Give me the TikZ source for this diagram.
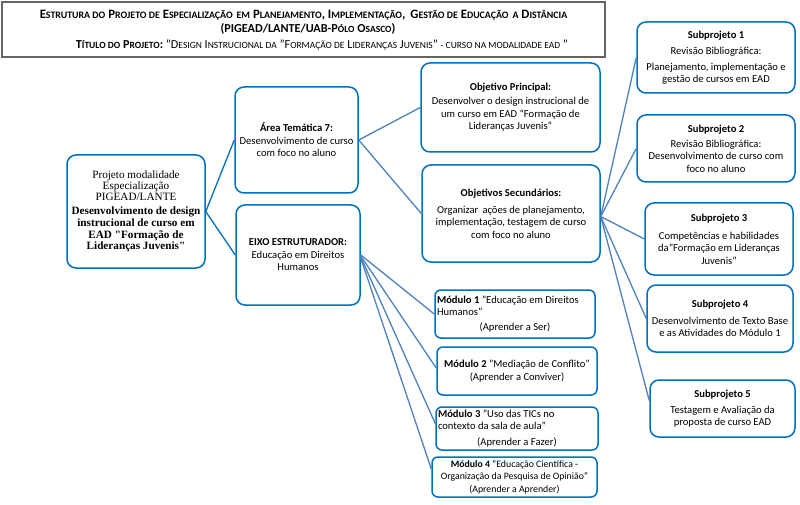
\documentclass[tikz,border=0pt]{standalone}
\usepackage{fontspec}
\setmainfont{Carlito}
\newfontfamily\serifx{Liberation Serif}
\usetikzlibrary{calc}
\definecolor{boxblue}{RGB}{0,112,192}
\definecolor{linkblue}{RGB}{79,129,189}
\definecolor{titlegray}{RGB}{100,100,100}
\newcommand\smc[1]{{\fontsize{9.9}{11}\selectfont #1}}
\newcommand\smd[1]{{\fontsize{9.5}{11}\selectfont #1}}
\begin{document}
\begin{tikzpicture}[x=1pt,y=-1pt,
  box/.style={draw=boxblue, line width=1.5pt, rounded corners=9pt, inner sep=1pt,
    align=center, font=\fontsize{10.6}{12.5}\selectfont},
  serifbox/.style={box, font=\serifx\fontsize{11.2}{11.2}\selectfont},
  titleline/.style={inner sep=0pt, font=\fontsize{12.8}{13}\selectfont},
  titlelinec/.style={inner sep=0pt, font=\fontsize{12.2}{13}\selectfont},
  link/.style={draw=linkblue, line width=1.3pt},
  linkb/.style={draw=boxblue, line width=1.3pt}]
\useasboundingbox (0,0) rectangle (800,505);

% title box
\draw[titlegray, line width=1.3pt] (2,2) rectangle (605,57);
\node[titleline] (t1) at (303.5,15) {\bfseries E\smc{STRUTURA DO} P\smc{ROJETO DE} E\smc{SPECIALIZAÇÃO \,EM} P\smc{LANEJAMENTO}, I\smc{MPLEMENTAÇÃO}, \,G\smc{ESTÃO DE} E\smc{DUCAÇÃO \,A} D\smc{ISTÂNCIA}};
\node[titlelinec] (t2) at (308,28.5) {\bfseries (PIGEAD/LANTE/UAB-P\smd{ÓLO} O\smd{SASCO})};
\node[titlelinec] (t3) at (322,45) {{\bfseries T\smd{ÍTULO DO} P\smd{ROJETO}:} "D\smd{ESIGN} I\smd{NSTRUCIONAL DA} "F\smd{ORMAÇÃO DE} L\smd{IDERANÇAS} J\smd{UVENIS}" \smd{- CURSO NA MODALIDADE EAD} "};

% main column
\node[serifbox, minimum width=138pt, minimum height=113pt] (main) at (136,211.5)
 {Projeto modalidade\\Especialização\\PIGEAD/LANTE\\[2.5pt]\textbf{Desenvolvimento de design}\\[0.6pt]\textbf{instrucional de curso em}\\[0.6pt]\textbf{EAD "Formação de}\\[0.6pt]\textbf{Lideranças Juvenis"}};

\node[box, minimum width=123pt, minimum height=106pt] (area) at (296.5,140)
 {\textbf{Área Temática 7:}\\Desenvolvimento de curso\\com foco no aluno};
\node[box, minimum width=124pt, minimum height=100pt] (eixo) at (298,255)
 {\textbf{EIXO ESTRUTURADOR:}\\Educação em Direitos\\Humanos};

\node[box, minimum width=179pt, minimum height=89pt] (objp) at (510.5,107.5)
 {\textbf{Objetivo Principal:}\\[1.5pt]Desenvolver o design instrucional de\\um curso em EAD “Formação de\\Lideranças Juvenis”};
\node[box, minimum width=178pt, minimum height=97pt] (objs) at (511,213.5)
 {\textbf{Objetivos Secundários:}\\[4.5pt]Organizar \,ações de planejamento,\\implementação, testagem de curso\\com foco no aluno};

% modules
\node[box, rounded corners=6pt, minimum width=160pt, minimum height=48pt, align=left] (m1) at (515,314)
 {\textbf{Módulo 1} "Educação em Direitos\\Humanos"\\[2pt]\makebox[156pt]{(Aprender a Ser)}};
\node[box, rounded corners=6pt, minimum width=160pt, minimum height=48pt] (m2) at (517,371)
 {\textbf{Módulo 2} "Mediação de Conflito"\\(Aprender a Conviver)};
\node[box, rounded corners=6pt, minimum width=162pt, minimum height=43pt, align=left] (m3) at (517,428.5)
 {\textbf{Módulo 3} "Uso das TICs no\\contexto da sala de aula"\\[3pt]\makebox[158pt]{(Aprender a Fazer)}};
\node[box, rounded corners=6pt, minimum width=165pt, minimum height=40pt, inner sep=0pt,
  font=\fontsize{9.8}{12.5}\selectfont] (m4) at (514.5,477)
 {\textbf{Módulo 4} "Educação Científica -\\Organização da Pesquisa de Opinião"\\(Aprender a Aprender)};

% subprojects
\node[box, minimum width=158pt, minimum height=71pt] (s1) at (716,57.5)
 {\textbf{Subprojeto 1}\\[4pt]Revisão Bibliográfica:\\[3pt]Planejamento, implementação e\\gestão de cursos em EAD};
\node[box, minimum width=158pt, minimum height=67pt] (s2) at (716,148.5)
 {\textbf{Subprojeto 2}\\[2.5pt]Revisão Bibliográfica:\\Desenvolvimento de curso com\\foco no aluno};
\node[box, minimum width=148pt, minimum height=72pt] (s3) at (719,239)
 {\textbf{Subprojeto 3}\\[5.5pt]Competências e habilidades\\da"Formação em Lideranças\\Juvenis"};
\node[box, minimum width=146pt, minimum height=67pt] (s4) at (720,318.5)
 {\textbf{Subprojeto 4}\\[4.5pt]Desenvolvimento de Texto Base\\e as Atividades do Módulo 1};
\node[box, minimum width=145pt, minimum height=57pt] (s5) at (722.5,408.5)
 {\textbf{Subprojeto 5}\\[3.5pt]Testagem e Avaliação da\\proposta de curso EAD};

% connectors
\draw[linkb] (main.east) -- (area.west);
\draw[linkb] (main.east) -- (eixo.west);
\draw[link] (area.east) -- (objp.west);
\draw[link] (area.east) -- (objs.west);
\draw[link] (eixo.east) -- (m1.west);
\draw[link] ($(eixo.east)+(0,1)$) -- ($(m2.west)+(0,-3)$);
\draw[link] ($(eixo.east)+(0,2)$) -- ($(m3.west)+(0,-5)$);
\draw[link] ($(eixo.east)+(0,3)$) -- ($(m4.west)+(0,-8)$);
\draw[link] ($(objs.east)+(0,3)$) -- (s1.west);
\draw[link] ($(objs.east)+(0,3)$) -- (s2.west);
\draw[link] ($(objs.east)+(0,3)$) -- (s3.west);
\draw[link] ($(objs.east)+(0,3)$) -- (s4.west);
\draw[link] ($(objs.east)+(0,3)$) -- ($(s5.west)+(0,-8)$);
\end{tikzpicture}
\end{document}
